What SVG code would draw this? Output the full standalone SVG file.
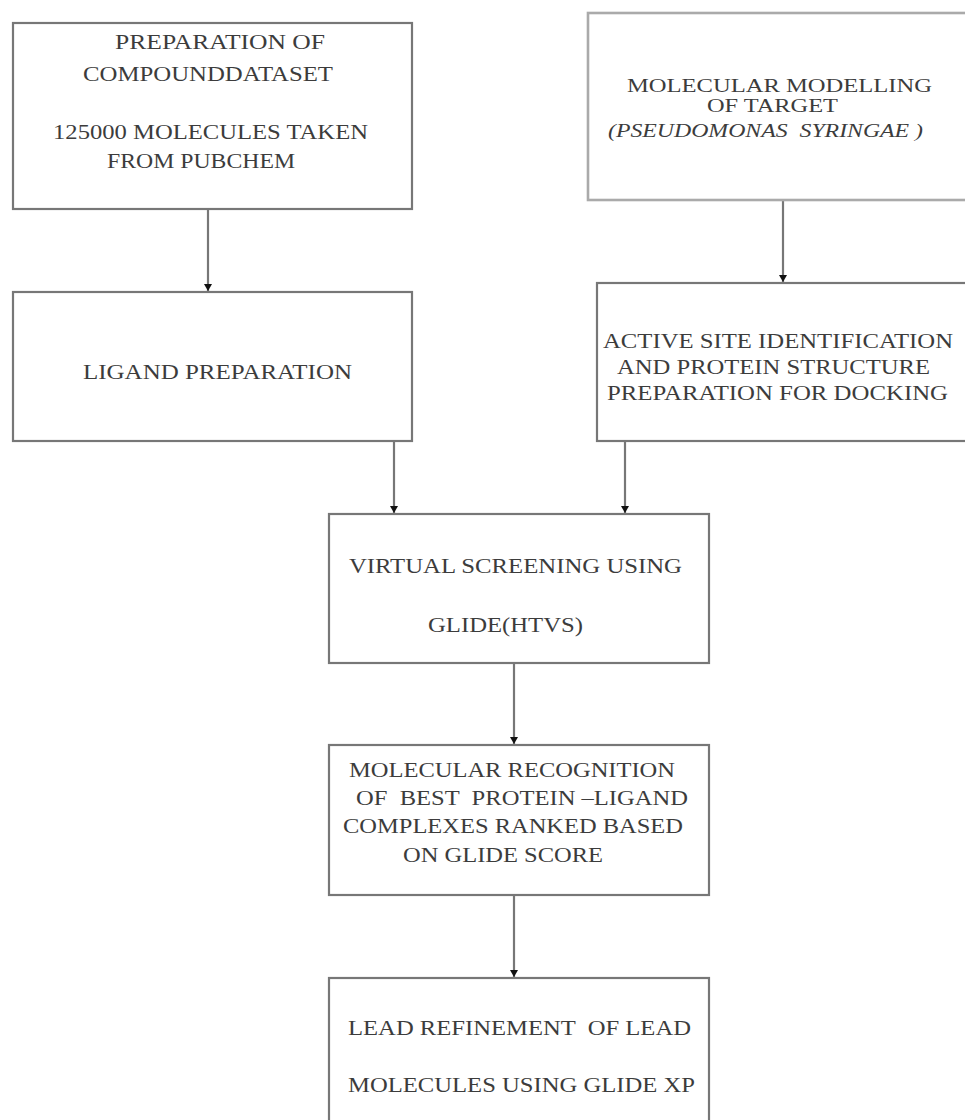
<svg xmlns="http://www.w3.org/2000/svg" width="965" height="1120" viewBox="0 0 965 1120">
<style>
.box{fill:#ffffff;stroke:#777777;stroke-width:2.2}
.box.light{stroke:#aaaaaa;stroke-width:2.6}
.t{font-size:20px;fill:#3c3c3c}
.s{font-size:18px}
.i{font-style:italic}
.conn{stroke:#777777;stroke-width:2.2;fill:none}
</style>
<defs>
<marker id="ah" viewBox="0 0 7 8" refX="7" refY="4" markerWidth="7" markerHeight="8" markerUnits="userSpaceOnUse" orient="auto">
<path d="M0,0 L7,4 L0,8 Z" fill="#111111"/>
</marker>
</defs>
<rect width="965" height="1120" fill="#ffffff"/>
<g id="connectors">
<line class="conn" x1="208" y1="209" x2="208" y2="291" marker-end="url(#ah)"/>
<line class="conn" x1="783" y1="200" x2="783" y2="282" marker-end="url(#ah)"/>
<line class="conn" x1="394" y1="441" x2="394" y2="513" marker-end="url(#ah)"/>
<line class="conn" x1="625" y1="441" x2="625" y2="513" marker-end="url(#ah)"/>
<line class="conn" x1="514" y1="663" x2="514" y2="744" marker-end="url(#ah)"/>
<line class="conn" x1="514" y1="895" x2="514" y2="977" marker-end="url(#ah)"/>
</g>
<g font-family="'Liberation Serif', 'DejaVu Serif', 'Times New Roman', serif">
<g id="n1">
<rect class="box" x="13" y="23" width="399" height="186"/>
<text class="t" x="115" y="49" textLength="210" lengthAdjust="spacingAndGlyphs">PREPARATION OF</text>
<text class="t" x="83" y="81" textLength="250" lengthAdjust="spacingAndGlyphs">COMPOUNDDATASET</text>
<text class="t" x="53" y="139" textLength="315" lengthAdjust="spacingAndGlyphs">125000 MOLECULES TAKEN</text>
<text class="t" x="107" y="168" textLength="188" lengthAdjust="spacingAndGlyphs">FROM PUBCHEM</text>
</g>
<g id="n2">
<rect class="box light" x="588" y="13" width="390" height="187"/>
<text class="t s" x="627" y="92" textLength="305" lengthAdjust="spacingAndGlyphs">MOLECULAR MODELLING</text>
<text class="t s" x="707" y="112" textLength="131" lengthAdjust="spacingAndGlyphs">OF TARGET</text>
<text class="t s i" x="608" y="137" textLength="315" lengthAdjust="spacingAndGlyphs" xml:space="preserve">(PSEUDOMONAS  SYRINGAE )</text>
</g>
<g id="n3">
<rect class="box" x="13" y="292" width="399" height="149"/>
<text class="t" x="83" y="379" textLength="269" lengthAdjust="spacingAndGlyphs">LIGAND PREPARATION</text>
</g>
<g id="n4">
<rect class="box" x="597" y="283" width="380" height="158"/>
<text class="t" x="603" y="348" textLength="350" lengthAdjust="spacingAndGlyphs">ACTIVE SITE IDENTIFICATION</text>
<text class="t" x="617" y="374" textLength="313" lengthAdjust="spacingAndGlyphs">AND PROTEIN STRUCTURE</text>
<text class="t" x="607" y="400" textLength="341" lengthAdjust="spacingAndGlyphs">PREPARATION FOR DOCKING</text>
</g>
<g id="n5">
<rect class="box" x="329" y="514" width="380" height="149"/>
<text class="t" x="349" y="573" textLength="333" lengthAdjust="spacingAndGlyphs">VIRTUAL SCREENING USING</text>
<text class="t" x="428" y="632" textLength="155" lengthAdjust="spacingAndGlyphs">GLIDE(HTVS)</text>
</g>
<g id="n6">
<rect class="box" x="329" y="745" width="380" height="150"/>
<text class="t" x="349" y="777" textLength="326" lengthAdjust="spacingAndGlyphs">MOLECULAR RECOGNITION</text>
<text class="t" x="356" y="805" textLength="332" lengthAdjust="spacingAndGlyphs" xml:space="preserve">OF  BEST  PROTEIN –LIGAND</text>
<text class="t" x="343" y="833" textLength="340" lengthAdjust="spacingAndGlyphs">COMPLEXES RANKED BASED</text>
<text class="t" x="403" y="862" textLength="200" lengthAdjust="spacingAndGlyphs">ON GLIDE SCORE</text>
</g>
<g id="n7">
<rect class="box" x="329" y="978" width="380" height="160"/>
<text class="t" x="348" y="1035" textLength="343" lengthAdjust="spacingAndGlyphs" xml:space="preserve">LEAD REFINEMENT  OF LEAD</text>
<text class="t" x="348" y="1092" textLength="347" lengthAdjust="spacingAndGlyphs">MOLECULES USING GLIDE XP</text>
</g>
</g>
</svg>
